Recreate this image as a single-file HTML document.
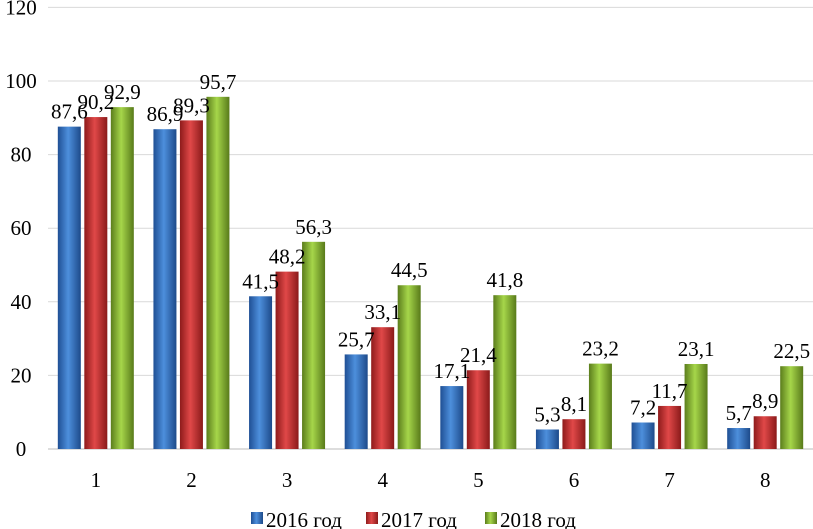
<!DOCTYPE html>
<html><head><meta charset="utf-8"><style>
body{margin:0;background:#fff}
svg{display:block;font-family:"Liberation Serif",serif}
</style></head><body>
<svg id="chart" width="813" height="529">
<defs>
<linearGradient id="gb" x1="0" x2="1"><stop offset="0" stop-color="#1f4f94"/><stop offset="0.45" stop-color="#4d8fdc"/><stop offset="1" stop-color="#1d4a8a"/></linearGradient>
<linearGradient id="gr" x1="0" x2="1"><stop offset="0" stop-color="#8e1b1b"/><stop offset="0.45" stop-color="#e04848"/><stop offset="1" stop-color="#8a1a1a"/></linearGradient>
<linearGradient id="gg" x1="0" x2="1"><stop offset="0" stop-color="#5b7d1c"/><stop offset="0.45" stop-color="#a6d64a"/><stop offset="1" stop-color="#587a1a"/></linearGradient>
</defs>
<g id="grid"></g><g id="bars"></g><g id="labels"></g>
<g font-size="21">
<g><rect x="251" y="512" width="12" height="12" fill="url(#gb)"/><text x="266" y="527">2016 год</text></g>
<g><rect x="366" y="512" width="12" height="12" fill="url(#gr)"/><text x="381" y="527">2017 год</text></g>
<g><rect x="485" y="512" width="12" height="12" fill="url(#gg)"/><text x="500" y="527">2018 год</text></g>
</g>
</svg>
<script>
const categories=["1","2","3","4","5","6","7","8"];
const s2016=[87.6,86.9,41.5,25.7,17.1,5.3,7.2,5.7];
const s2017=[90.2,89.3,48.2,33.1,21.4,8.1,11.7,8.9];
const s2018=[92.9,95.7,56.3,44.5,41.8,23.2,23.1,22.5];
const yTicks=[0,20,40,60,80,100,120];
const NS="http://www.w3.org/2000/svg";
const x0=48,x1=813,y0=449,pxu=3.68;
const y=v=>y0-v*pxu;
const cw=(x1-x0)/categories.length;
const grid=document.getElementById('grid'),bars=document.getElementById('bars'),labels=document.getElementById('labels');
function mk(tag,attrs,parent){const e=document.createElementNS(NS,tag);for(const k in attrs)e.setAttribute(k,attrs[k]);parent.appendChild(e);return e;}
yTicks.forEach(t=>{
 const l=mk('line',{x1:x0,x2:x1,y1:y(t),y2:y(t),stroke:t===0?'#bbb':'#d9d9d9','stroke-width':1},grid);
 
 
 const tx=mk('text',{x:21,y:y(t)+7,'font-size':21,'text-anchor':'middle'},grid);
 tx.textContent=t;
 
 
});
const series=[[s2016,'url(#gb)','2016'],[s2017,'url(#gr)','2017'],[s2018,'url(#gg)','2018']];
const bw=23,gap=3.5;
categories.forEach((c,i)=>{
 const cx=x0+cw*(i+0.5);
 const t=mk('text',{x:cx,y:487,'font-size':21,'text-anchor':'middle'},labels);
 t.textContent=c;
 
 
 series.forEach(([d,f,n],j)=>{
  const bx=cx+(j-1)*(bw+gap)-bw/2;
  const r=mk('rect',{x:bx,y:y(d[i]),width:bw,height:d[i]*pxu,fill:f},bars);
  
  
  const lt=mk('text',{x:bx+bw/2,y:y(d[i])-8,'font-size':21,'text-anchor':'middle'},labels);
  lt.textContent=String(d[i]).replace('.',',');
  
  
 });
});
</script>
</body></html>
